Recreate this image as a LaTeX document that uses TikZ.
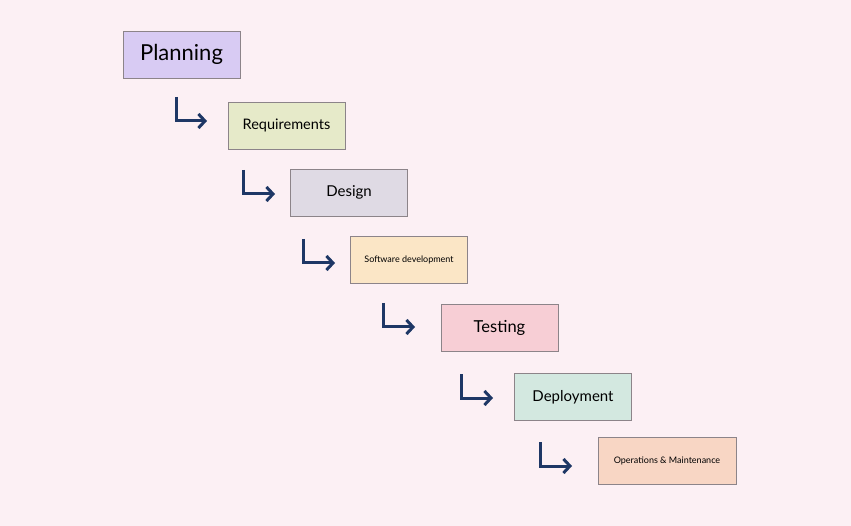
\documentclass[tikz,border=0pt]{standalone}
\usepackage{fontspec}
\setmainfont{Lato}
\usepackage{tikz}
\usetikzlibrary{arrows.meta}
\usetikzlibrary{calc}

\definecolor{bgpink}{HTML}{FCF0F4}
\definecolor{boxline}{HTML}{8C8489}
\definecolor{arrowblue}{HTML}{1E3765}
\definecolor{planfill}{HTML}{D8CBF3}
\definecolor{reqfill}{HTML}{E6EAC9}
\definecolor{desfill}{HTML}{DFDAE4}
\definecolor{softfill}{HTML}{FBE6C6}
\definecolor{testfill}{HTML}{F7CED5}
\definecolor{depfill}{HTML}{D3E8E0}
\definecolor{opsfill}{HTML}{F8D6C4}

\begin{document}
\begin{tikzpicture}[x=1pt, y=-1pt,
	phase/.style={draw=boxline, line width=0.8pt, minimum width=117pt, minimum height=47pt, inner sep=0pt},
	flow/.style={draw=arrowblue, line width=3pt, -{Straight Barb[length=6.5pt,width=14pt]}}]
	\fill[bgpink] (0,0) rectangle (851,526);
	\node[phase, fill=planfill, font=\fontsize{22}{26}\selectfont] (plan) at (181.5,54.5) {Planning};
	\node[phase, fill=reqfill, font=\fontsize{14.5}{17}\selectfont] (req) at (286.5,125.5) {Requirements};
	\node[phase, fill=desfill, font=\fontsize{15}{18}\selectfont] (des) at (349,192.5) {Design};
	\node[phase, fill=softfill, font=\fontsize{9}{11}\selectfont] (soft) at (409,260) {Software development};
	\node[phase, fill=testfill, font=\fontsize{16.5}{19}\selectfont] (test) at (499.5,328) {Testing};
	\node[phase, fill=depfill, font=\fontsize{15}{18}\selectfont] (dep) at (573,397) {Deployment};
	\node[phase, fill=opsfill, minimum width=138pt, font=\fontsize{9}{11}\selectfont] (ops) at (667,461) {Operations \& Maintenance};
	\coordinate (a1) at (176,97);
	\coordinate (b1) at (207,121);
	\coordinate (a2) at (243,170);
	\coordinate (b2) at (275,194);
	\coordinate (a3) at (303,239);
	\coordinate (b3) at (335,263);
	\coordinate (a4) at (383,303);
	\coordinate (b4) at (415,327);
	\coordinate (a5) at (461,374);
	\coordinate (b5) at (493,398);
	\coordinate (a6) at (540,442);
	\coordinate (b6) at (572,466);
	\draw[flow] (a1) |- (b1);
	\draw[flow] (a2) |- (b2);
	\draw[flow] (a3) |- (b3);
	\draw[flow] (a4) |- (b4);
	\draw[flow] (a5) |- (b5);
	\draw[flow] (a6) |- (b6);
\end{tikzpicture}
\end{document}
